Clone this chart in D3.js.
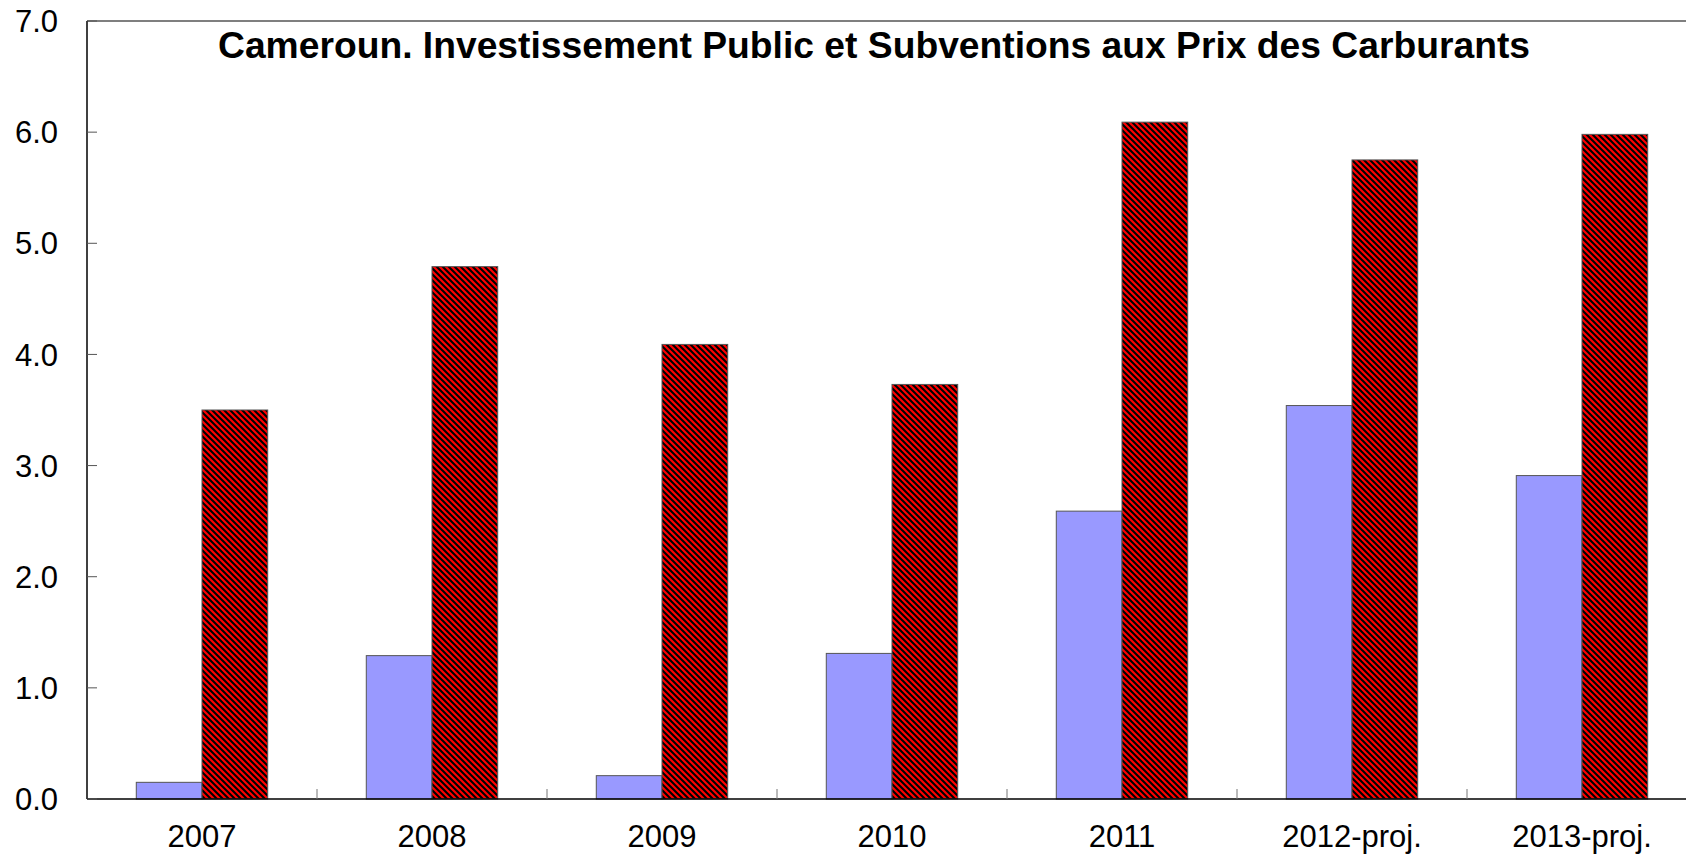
<!DOCTYPE html>
<html>
<head>
<meta charset="utf-8">
<script src="https://cdn.jsdelivr.net/npm/d3@7"></script>
<style>
  html, body { margin: 0; padding: 0; background: #fff; overflow: hidden; }
  svg { display: block; font-family: "Liberation Sans", Arial, sans-serif; }
</style>
</head>
<body>
<svg id="chart"></svg>
<script>
// chart data
const categories = ['2007', '2008', '2009', '2010', '2011', '2012-proj.', '2013-proj.'];
const seriesKeys = ['investissement', 'subventions'];
const investissement = [0.15, 1.29, 0.21, 1.31, 2.59, 3.54, 2.91];
const subventions = [3.50, 4.79, 4.09, 3.73, 6.09, 5.75, 5.98];
const yTicks = [0, 1, 2, 3, 4, 5, 6, 7];
const titleText = 'Cameroun. Investissement Public et Subventions aux Prix des Carburants';

const width = 1686;
const height = 856;
const margin = { top: 21, left: 87, bottom: 57 };
const innerWidth = 1610;
const innerHeight = height - margin.top - margin.bottom;

const svg = d3.select('#chart')
  .attr('width', width)
  .attr('height', height);

// hatch pattern for the subsidies bars
const defs = svg.append('defs');
const pat = defs.append('pattern')
  .attr('id', 'hatch')
  .attr('patternUnits', 'userSpaceOnUse')
  .attr('width', 6)
  .attr('height', 6);
pat.append('rect').attr('width', 6).attr('height', 6).attr('fill', '#ff0000');
pat.append('path')
  .attr('d', 'M0,0 L6,6 M-3,3 L3,9 M3,-3 L9,3')
  .attr('stroke', '#000')
  .attr('stroke-width', 2.1);

const x = d3.scaleBand()
  .domain(categories)
  .range([0, innerWidth]);

const xSub = d3.scaleBand()
  .domain(seriesKeys)
  .range([0, x.bandwidth()])
  .paddingOuter(0.75);

const y = d3.scaleLinear()
  .domain([0, 7])
  .range([innerHeight, 0]);

const g = svg.append('g')
  .attr('transform', `translate(${margin.left},${margin.top})`);

// top frame line
g.append('line')
  .attr('x1', 0).attr('x2', innerWidth)
  .attr('y1', 0).attr('y2', 0)
  .attr('stroke', '#555').attr('stroke-width', 1.5);

const rows = categories.map((c, i) => ({
  cat: c,
  values: [
    { key: 'investissement', v: investissement[i] },
    { key: 'subventions', v: subventions[i] }
  ]
}));

const groups = g.selectAll('g.cat')
  .data(rows)
  .join('g')
  .attr('class', 'cat')
  .attr('transform', d => `translate(${x(d.cat)},0)`);

groups.selectAll('rect')
  .data(d => d.values)
  .join('rect')
  .attr('x', d => xSub(d.key))
  .attr('y', d => y(d.v))
  .attr('width', xSub.bandwidth())
  .attr('height', d => y(0) - y(d.v))
  .attr('fill', d => d.key === 'investissement' ? '#9999ff' : 'url(#hatch)')
  .attr('stroke', '#555')
  .attr('stroke-width', 1);

// x axis
const xAxis = g.append('g')
  .attr('transform', `translate(0,${innerHeight})`);
xAxis.append('line')
  .attr('x1', 0).attr('x2', innerWidth)
  .attr('y1', 0).attr('y2', 0)
  .attr('stroke', '#000').attr('stroke-width', 1.5);
xAxis.selectAll('line.tick')
  .data(categories.slice(1))
  .join('line')
  .attr('class', 'tick')
  .attr('x1', d => x(d)).attr('x2', d => x(d))
  .attr('y1', 0).attr('y2', -10)
  .attr('stroke', '#777').attr('stroke-width', 1);
xAxis.selectAll('text')
  .data(categories)
  .join('text')
  .attr('x', d => x(d) + x.bandwidth() / 2)
  .attr('y', 48)
  .attr('text-anchor', 'middle')
  .attr('font-size', 31)
  .attr('fill', '#000')
  .text(d => d);

// y axis
const yAxis = g.append('g');
yAxis.append('line')
  .attr('x1', 0).attr('x2', 0)
  .attr('y1', 0).attr('y2', innerHeight)
  .attr('stroke', '#000').attr('stroke-width', 1.5);
yAxis.selectAll('line.tick')
  .data(yTicks)
  .join('line')
  .attr('class', 'tick')
  .attr('x1', 0).attr('x2', 10)
  .attr('y1', d => y(d)).attr('y2', d => y(d))
  .attr('stroke', '#555').attr('stroke-width', 1);
yAxis.selectAll('text')
  .data(yTicks)
  .join('text')
  .attr('x', -29)
  .attr('y', d => y(d))
  .attr('dy', '0.36em')
  .attr('text-anchor', 'end')
  .attr('font-size', 31)
  .attr('fill', '#000')
  .text(d => d3.format('.1f')(d));

// title
svg.append('text')
  .attr('x', 218)
  .attr('y', 58)
  .attr('font-size', 36)
  .attr('font-weight', 'bold')
  .attr('textLength', 1312)
  .attr('lengthAdjust', 'spacingAndGlyphs')
  .attr('fill', '#000')
  .text(titleText);
</script>
</body>
</html>
